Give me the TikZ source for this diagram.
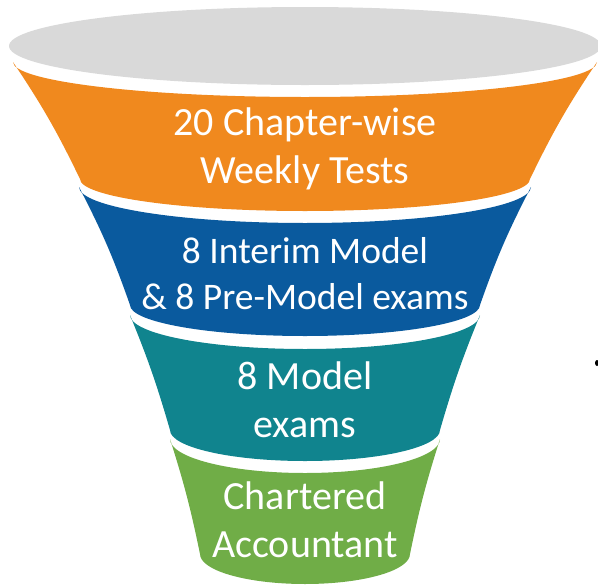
\documentclass[tikz,border=0pt]{standalone}
\usepackage{fontspec}
\setmainfont{Carlito}
\definecolor{funnelgray}{RGB}{217,217,217}
\definecolor{funnelorange}{RGB}{240,137,30}
\definecolor{funnelblue}{RGB}{10,90,158}
\definecolor{funnelteal}{RGB}{16,132,142}
\definecolor{funnelgreen}{RGB}{112,173,71}
\begin{document}
\begin{tikzpicture}[x=1pt, y=-1pt, band/.style={fill=#1}, stage/.style={text=white, align=center, anchor=base, inner sep=0pt, font=\fontsize{40}{47.5}\selectfont}]
        \useasboundingbox (0,0) rectangle (598,587);
        \fill[funnelgray] (305,46) ellipse[x radius=296, y radius=39];

        \fill[band=funnelorange] (13,62) arc[start angle=180, end angle=0, x radius=292, y radius=35] to[bend right=4] (530,179) arc[start angle=0, end angle=180, x radius=225, y radius=32] to[bend right=4] cycle;
        \fill[band=funnelblue] (79,187) arc[start angle=180, end angle=0, x radius=226, y radius=36] to[bend right=4] (480,305) arc[start angle=0, end angle=180, x radius=175, y radius=31] to[bend right=4] cycle;
        \fill[band=funnelteal] (130,315) arc[start angle=180, end angle=0, x radius=175, y radius=34] to[bend right=3] (440,430) arc[start angle=0, end angle=180, x radius=135, y radius=31] to[bend right=3] cycle;
        \fill[band=funnelgreen] (170,439) arc[start angle=180, end angle=0, x radius=135, y radius=34] to[bend right=3] (410,554) arc[start angle=0, end angle=180, x radius=105, y radius=30] to[bend right=3] cycle;

        \node[stage] (weekly) at (305,183) {20 Chapter-wise\\Weekly Tests};
        \node[stage, font=\fontsize{37.5}{46}\selectfont] (interim) at (305,309) {8 Interim Model\\\& 8 Pre-Model exams};
        \node[stage] (model) at (305,437) {8 Model\\exams};
        \node[stage] (ca) at (305,557) {Chartered\\Accountant};

        \fill (597,363) ellipse[x radius=2, y radius=3];
    \end{tikzpicture}
\end{document}
